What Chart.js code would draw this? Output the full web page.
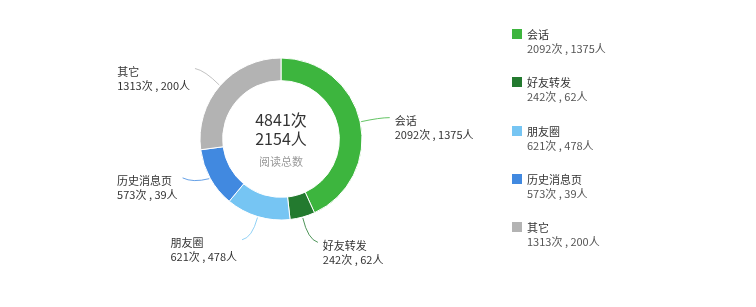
<!DOCTYPE html>
<html>
<head>
<meta charset="utf-8">
<script src="https://cdn.jsdelivr.net/npm/chart.js@4/dist/chart.umd.min.js"></script>
<style>
  body { margin: 0; background: #fff; font-family: "Noto Sans CJK SC", "Noto Sans", sans-serif; }
  #wrap { position: relative; width: 756px; height: 307px; }
  #chartBox { position: absolute; left: 0; top: 0; width: 756px; height: 307px; }
  .legend-item { position: absolute; left: 512px; font-size: 11px; line-height: 14px; white-space: pre; }
  .legend-item .sq { position: absolute; left: 0; top: 2px; width: 10px; height: 10px; }
  .legend-item .t1 { margin-left: 15px; color: #333; }
  .legend-item .t2 { margin-left: 15px; color: #555; }
</style>
</head>
<body>
<div id="wrap">
  <div id="chartBox"><canvas id="myChart"></canvas></div>
  <div id="legend"></div>
</div>
<script>
// data
const categories = ['会话', '好友转发', '朋友圈', '历史消息页', '其它'];
const readCounts = [2092, 242, 621, 573, 1313];   // 次
const readers = [1375, 62, 478, 39, 200];         // 人
const colors = ['#3db53e', '#237a2f', '#76c5f3', '#4189e0', '#b3b3b3'];

const totalCount = readCounts.reduce((a, b) => a + b, 0);
const totalReaders = readers.reduce((a, b) => a + b, 0);

function subText(i) {
  return readCounts[i] + '次 , ' + readers[i] + '人';
}

// legend on the right (html)
const legend = document.getElementById('legend');
categories.forEach((name, i) => {
  const item = document.createElement('div');
  item.className = 'legend-item';
  item.style.top = (27 + i * 48.3) + 'px';
  item.innerHTML = '<span class="sq" style="background:' + colors[i] + '"></span>' +
    '<div class="t1">' + name + '</div><div class="t2">' + subText(i) + '</div>';
  legend.appendChild(item);
});

// small vertical nudges so labels sit like the original layout
const labelShift = [0, 6, 4, -10, -4];

// leader lines + outside labels + center text
const labelPlugin = {
  id: 'labelPlugin',
  afterDatasetsDraw(chart) {
    const ctx = chart.ctx;
    const meta = chart.getDatasetMeta(0);
    ctx.save();
    ctx.font = '11px "Noto Sans CJK SC", sans-serif';
    ctx.textBaseline = 'middle';
    ctx.textAlign = 'left';
    meta.data.forEach((arc, i) => {
      const p = arc.getProps(['x', 'y', 'startAngle', 'endAngle', 'outerRadius'], true);
      const mid = (p.startAngle + p.endAngle) / 2;
      const c = Math.cos(mid), s = Math.sin(mid);
      const x0 = p.x + c * (p.outerRadius + 1), y0 = p.y + s * (p.outerRadius + 1);
      const x1 = p.x + c * (p.outerRadius + 20), y1 = p.y + s * (p.outerRadius + 20) + labelShift[i] / 2;
      const dir = c >= 0 ? 1 : -1;
      const x2 = x1 + dir * 10, y2 = y1 + labelShift[i] / 2;
      ctx.strokeStyle = colors[i];
      ctx.globalAlpha = 0.8;
      ctx.lineWidth = 1;
      ctx.beginPath();
      ctx.moveTo(x0, y0);
      ctx.quadraticCurveTo(x1, y1, x2, y2);
      ctx.stroke();
      ctx.globalAlpha = 1;

      const line1 = categories[i], line2 = subText(i);
      const w = Math.max(ctx.measureText(line1).width, ctx.measureText(line2).width);
      const tx = dir > 0 ? x2 + 5 : x2 - 5 - w;
      ctx.fillStyle = '#333';
      ctx.fillText(line1, tx, y2 + 3);
      ctx.fillText(line2, tx, y2 + 17);
    });

    // center
    const cx = meta.data[0].x, cy = meta.data[0].y;
    ctx.textAlign = 'center';
    ctx.fillStyle = '#333';
    ctx.font = '16px "Noto Sans CJK SC", sans-serif';
    ctx.fillText(totalCount + '次', cx, cy - 19);
    ctx.fillText(totalReaders + '人', cx, cy);
    ctx.fillStyle = '#999';
    ctx.font = '11px "Noto Sans CJK SC", sans-serif';
    ctx.fillText('阅读总数', cx, cy + 23);
    ctx.restore();
  }
};

const chartCtx = document.getElementById('myChart').getContext('2d');
const myChart = new Chart(chartCtx, {
  type: 'doughnut',
  data: {
    labels: categories,
    datasets: [{
      data: readCounts,
      backgroundColor: colors,
      borderColor: '#fff',
      borderWidth: 1,
      hoverOffset: 0
    }]
  },
  options: {
    responsive: true,
    maintainAspectRatio: false,
    animation: false,
    radius: 81,
    cutout: 58,
    layout: { padding: { left: 200, right: 394, top: 58, bottom: 87 } },
    plugins: {
      legend: { display: false },
      tooltip: { enabled: false }
    }
  },
  plugins: [labelPlugin]
});
</script>
</body>
</html>
